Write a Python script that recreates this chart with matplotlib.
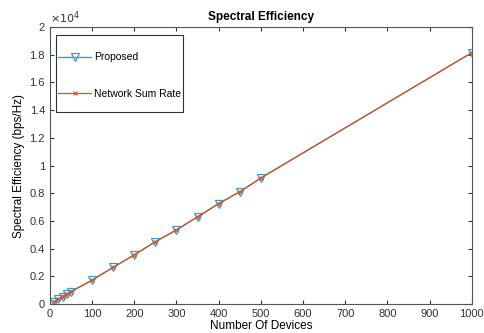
import numpy as np
import matplotlib
matplotlib.use("Agg")
import matplotlib.pyplot as plt
from matplotlib.patches import Rectangle

# Number of devices and spectral efficiency (bps/Hz)
devices = [10, 20, 30, 40, 50, 100, 150, 200, 250, 300, 350, 400, 450, 500, 1000]
proposed = [180, 360, 540, 720, 900, 1720, 2650, 3550, 4500, 5350, 6300, 7250, 8100, 9100, 18150]
sum_rate = [180, 360, 540, 720, 900, 1720, 2650, 3550, 4500, 5350, 6300, 7250, 8100, 9100, 18150]

x_ticks = [0, 100, 200, 300, 400, 500, 600, 700, 800, 900, 1000]
y_ticks = [0, 2000, 4000, 6000, 8000, 10000, 12000, 14000, 16000, 18000, 20000]
y_labels = ["0", "0.2", "0.4", "0.6", "0.8", "1", "1.2", "1.4", "1.6", "1.8", "2"]

plt.rcParams['font.family'] = ['Liberation Sans', 'DejaVu Sans']

fig = plt.figure(figsize=(4.84, 3.33), dpi=100)
ax = fig.add_axes([0.103, 0.087, 0.872, 0.832])

ax.plot(devices, proposed, color='#3a9ad4', lw=1.0, marker='v', ms=6,
        mfc='none', mec='#3a9ad4', mew=0.9, label='Proposed')
ax.plot(devices, sum_rate, color='#d9541a', lw=0.9, marker='x', ms=3.5,
        mew=0.8, label='Network Sum Rate')

ax.set_xlim(0, 1000)
ax.set_ylim(0, 20000)
ax.set_xticks(x_ticks)
ax.set_yticks(y_ticks)
ax.set_yticklabels(y_labels)
ax.tick_params(direction='in', length=3, labelsize=8, colors='#333333', top=True, right=True)
for s in ax.spines.values():
    s.set_color('#555555')
    s.set_linewidth(0.8)

ax.text(0.0, 1.005, r'$\times10^4$', transform=ax.transAxes, fontsize=8, color='#333333',
        va='bottom', ha='left')

ax.set_title('Spectral Efficiency', fontsize=8.5, fontweight='bold', pad=5)
ax.set_xlabel('Number Of Devices', fontsize=8.5, labelpad=1)
ax.set_ylabel('Spectral Efficiency (bps/Hz)', fontsize=8.5, labelpad=3)

# legend without its own frame, box drawn separately (MATLAB style tall box)
leg = ax.legend(loc='upper left', fontsize=7.5, frameon=False, borderpad=0,
                labelspacing=2.55, handlelength=3.2, handletextpad=0.3,
                borderaxespad=0, bbox_to_anchor=(0.019, 0.908))
ax.add_patch(Rectangle((0.0145, 0.693), 0.301, 0.278, transform=ax.transAxes,
                       fill=True, facecolor='white', edgecolor='#333333', lw=0.8, zorder=4))
leg.set_zorder(5)

fig.savefig('out.png', dpi=100)
